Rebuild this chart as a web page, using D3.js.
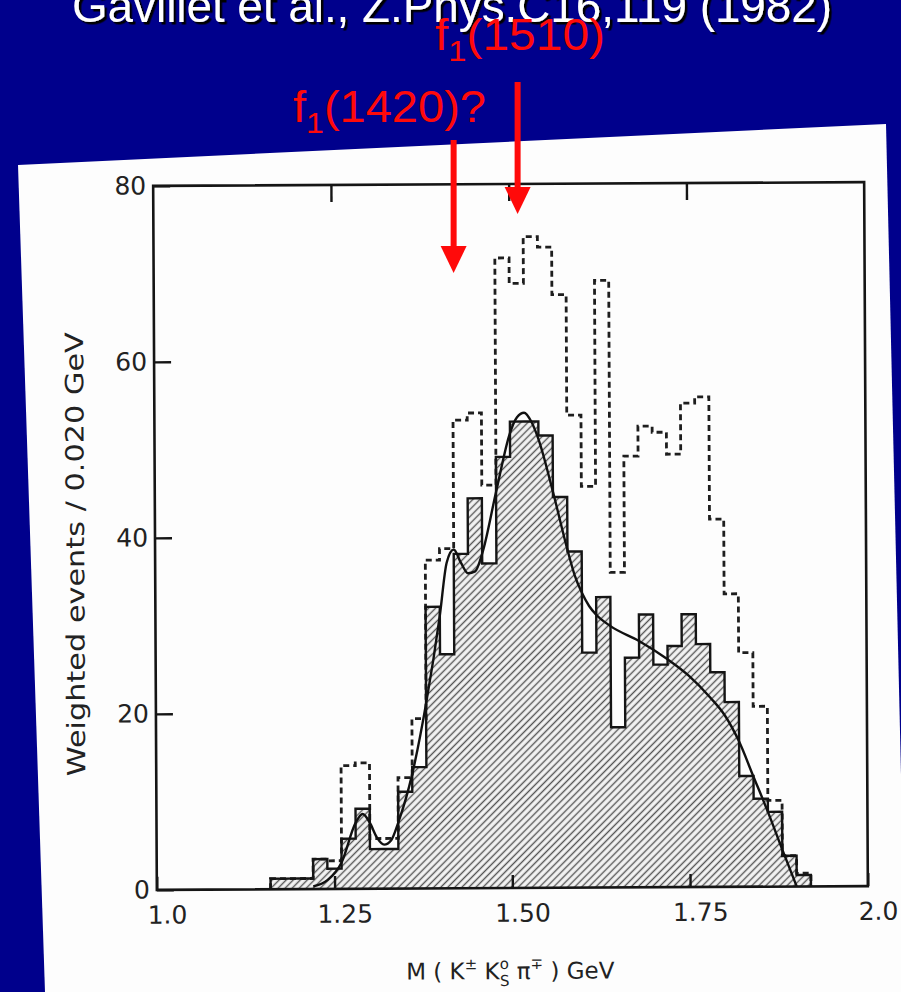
<!DOCTYPE html>
<html>
<head>
<meta charset="utf-8">
<script src="https://cdnjs.cloudflare.com/ajax/libs/d3/7.8.5/d3.min.js"></script>
<style>
body{margin:0;background:#00008c;}
svg{display:block;}
</style>
</head>
<body>
<svg id="chart" width="901" height="992"></svg>
<script>
// lower edge of each 0.020 GeV bin
var binLo = [1.16,1.18,1.20,1.22,1.24,1.26,1.28,1.30,1.32,1.34,1.36,1.38,1.40,1.42,1.44,1.46,1.48,1.50,1.52,
             1.54,1.56,1.58,1.60,1.62,1.64,1.66,1.68,1.70,1.72,1.74,1.76,1.78,1.80,1.82,1.84,1.86,1.88,1.90];
var binW = 0.02;
// hatched (selected) histogram
var hatched = [1.2,1.2,1.2,3.4,2.3,5.7,9.1,4.5,4.5,11,13.8,32,26.6,38,44.3,36.9,49,53,53,
               51.4,44.4,38.2,26.7,33,18.2,26.1,31,25.3,27.4,31,27.6,24.4,21,12.6,10,8.5,3.5,1.3];
// dashed (all events) histogram
var dashed = [1.2,1.2,1.2,3.4,3.2,14,14.3,5.7,5.7,12.6,19.3,37.3,38.6,53.2,54,45.8,71.6,68.7,74,
              72.8,67.4,53.7,45.6,69,35.8,49,52.4,51.7,49.2,55,55.7,41.8,33.3,26.6,20.5,9.8,3.5,1.5];
// fitted curve
var fitMass = [1.22,1.24,1.26,1.28,1.29,1.30,1.31,1.32,1.33,1.34,1.36,1.38,1.40,1.41,1.42,1.43,1.44,1.45,1.46,
               1.48,1.50,1.51,1.52,1.53,1.54,1.56,1.58,1.59,1.60,1.61,1.62,1.64,1.68,1.72,1.75,1.78,1.80,1.82,
               1.84,1.86,1.88,1.90];
var fitVal  = [0.3,1,3,7.5,8.5,7.5,5.8,5,5.5,7.5,13,21,31,37,38.5,37,35.8,36,38,
               45,51.7,53.5,54,53,51,45,38.4,35.5,33.5,32,31,29.7,28,25.9,24,21.5,19.5,16.5,
               12.5,8.5,4.2,0];
var xTicks = [1.0,1.25,1.5,1.75,2.0];
var xTickLabels = ["1.0","1.25","1.50","1.75","2.0"];
var yTicks = [0,20,40,60,80];
// annotated states (mass in GeV)
var states = ["f1(1420)?","f1(1510)"];
var stateMass = [1.42,1.51];

var svg = d3.select("#chart");
var defs = svg.append("defs");
var pat = defs.append("pattern").attr("id","hatch")
  .attr("patternUnits","userSpaceOnUse").attr("width",5).attr("height",5)
  .attr("patternTransform","rotate(45)");
pat.append("rect").attr("width",5).attr("height",5).attr("fill","#f4f4f4");
pat.append("line").attr("x1",2.5).attr("y1",0).attr("x2",2.5).attr("y2",5)
  .attr("stroke","#555").attr("stroke-width",1.4);
var shadow = defs.append("filter").attr("id","shadow");
shadow.append("feDropShadow").attr("dx",2.5).attr("dy",2.5).attr("stdDeviation",0.6)
  .attr("flood-color","#000").attr("flood-opacity",1);

// background + tilted paper
svg.append("rect").attr("width",901).attr("height",992).attr("fill","#00008c");
svg.append("polygon").attr("points","18,165 886,124 906,992 45,992").attr("fill","#fdfdfd");

// header (cut off at the top as on the slide)
svg.append("text").attr("x",72).attr("y",22)
  .attr("font-family","Liberation Sans, Arial, sans-serif").attr("font-size",46)
  .attr("textLength",760).attr("lengthAdjust","spacingAndGlyphs")
  .attr("fill","#fff").attr("filter","url(#shadow)")
  .text("Gavillet et al., Z.Phys.C16,119 (1982)");

var x = d3.scaleLinear().domain([1.0,2.0]).range([155,866]);
var y = d3.scaleLinear().domain([0,80]).range([888,184]);

var g = svg.append("g").attr("transform","rotate(-0.3,510,536)");

function stepPts(vals){
  var pts = [[binLo[0],0]];
  vals.forEach(function(v,i){ pts.push([binLo[i],v]); pts.push([binLo[i]+binW,v]); });
  pts.push([binLo[binLo.length-1]+binW,0]);
  return pts;
}
var line = d3.line().x(function(d){return x(d[0]);}).y(function(d){return y(d[1]);});

// hatched area
g.append("path").attr("d",line(stepPts(hatched))+"Z").attr("fill","url(#hatch)").attr("stroke","none");
// dashed histogram
g.append("path").attr("d",line(stepPts(dashed))).attr("fill","none")
  .attr("stroke","#1e1e1e").attr("stroke-width",2.8).attr("stroke-dasharray","6,4");
// solid histogram outline
g.append("path").attr("d",line(stepPts(hatched))).attr("fill","none")
  .attr("stroke","#151515").attr("stroke-width",2.4).attr("stroke-linejoin","miter");
// fit curve
var fitLine = d3.line().curve(d3.curveMonotoneX)
  .x(function(d){return x(d);}).y(function(d,i){return y(fitVal[i]);});
g.append("path").attr("d",fitLine(fitMass)).attr("fill","none")
  .attr("stroke","#111").attr("stroke-width",2.4);

// axes
var font = "DejaVu Sans, sans-serif";
var xAx = g.append("g").attr("transform","translate(0,"+y(0)+")")
  .call(d3.axisBottom(x).tickValues(xTicks).tickSizeInner(-13).tickSizeOuter(0).tickPadding(16)
    .tickFormat(function(d,i){return xTickLabels[i];}));
var topAx = g.append("g").attr("transform","translate(0,"+y(80)+")")
  .call(d3.axisTop(x).tickValues([1.25,1.5,1.75]).tickSizeInner(-17).tickSizeOuter(0).tickFormat(""));
var yAx = g.append("g").attr("transform","translate("+x(1.0)+",0)")
  .call(d3.axisLeft(y).tickValues(yTicks).tickSizeInner(-17).tickSizeOuter(0).tickPadding(7));
[xAx,topAx,yAx].forEach(function(a){
  a.select(".domain").remove();
  a.selectAll("line").attr("stroke","#151515").attr("stroke-width",2.4);
  a.selectAll("text").attr("font-family",font).attr("font-size",25).attr("fill","#222");
});
xAx.selectAll("text").attr("dx",10);
g.append("rect").attr("x",x(1.0)).attr("y",y(80)).attr("width",x(2.0)-x(1.0)).attr("height",y(0)-y(80))
  .attr("fill","none").attr("stroke","#151515").attr("stroke-width",2.6);

g.append("text").attr("transform","translate(84,552) rotate(-90)").attr("text-anchor","middle")
  .attr("font-family",font).attr("font-size",25).attr("fill","#222")
  .attr("textLength",444).attr("lengthAdjust","spacingAndGlyphs")
  .text("Weighted  events / 0.020 GeV");

var xt = g.append("text").attr("x",508).attr("y",979).attr("text-anchor","middle")
  .attr("font-family",font).attr("font-size",23).attr("fill","#222");
xt.append("tspan").text("M ( K");
xt.append("tspan").attr("dy",-10).attr("font-size",15).text("±");
xt.append("tspan").attr("dy",10).text(" K");
xt.append("tspan").attr("dy",-10).attr("font-size",15).text("o");
xt.append("tspan").attr("dx",-9).attr("dy",17).attr("font-size",15).text("S");
xt.append("tspan").attr("dy",-7).text(" \u03C0");
xt.append("tspan").attr("dy",-10).attr("font-size",15).text("\u2213");
xt.append("tspan").attr("dy",10).text(" )  GeV");

// red arrows and labels
var red = "#ff0a0a";
var arrowTop = [140,82], arrowTip = [273,214];
var labelX = [293,435], labelY = [122,50], labelLen = [193,170];
states.forEach(function(s,i){
  var ax = x(stateMass[i]);
  svg.append("rect").attr("x",ax-3).attr("y",arrowTop[i]).attr("width",6)
    .attr("height",arrowTip[i]-26-arrowTop[i]).attr("fill",red);
  svg.append("path").attr("d","M"+(ax-13)+","+(arrowTip[i]-27)+"L"+(ax+13)+","+(arrowTip[i]-27)+"L"+ax+","+arrowTip[i]+"Z")
    .attr("fill",red);
  var t = svg.append("text").attr("x",labelX[i]).attr("y",labelY[i]).attr("fill",red)
    .attr("font-family","Liberation Sans Narrow, Liberation Sans, Arial, sans-serif").attr("font-size",44)
    .attr("textLength",labelLen[i]).attr("lengthAdjust","spacingAndGlyphs");
  t.append("tspan").text("f");
  t.append("tspan").attr("dy",11).attr("font-size",30).text("1");
  t.append("tspan").attr("dy",-11).text(s.slice(2));
});
</script>
</body>
</html>
